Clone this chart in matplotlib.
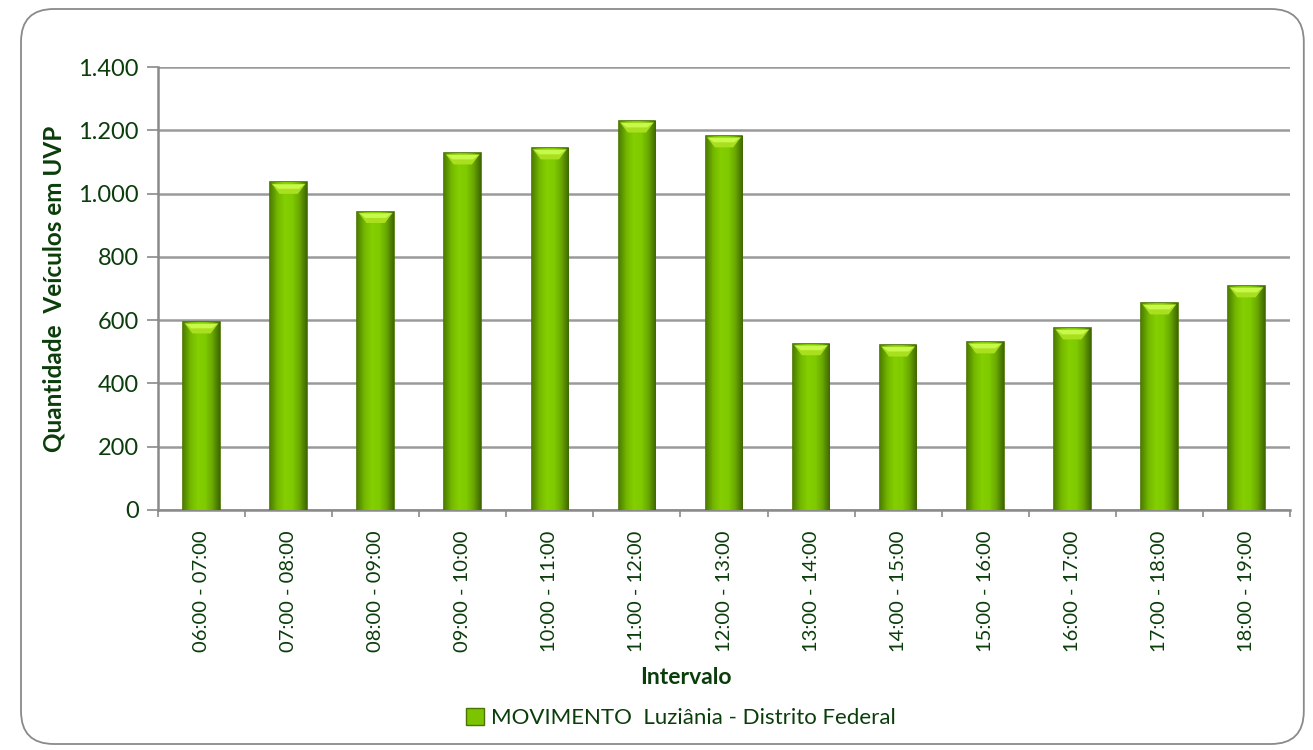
import matplotlib
matplotlib.use("Agg")
import matplotlib.pyplot as plt
import numpy as np
from matplotlib.patches import FancyBboxPatch, Patch
from matplotlib.colors import LinearSegmentedColormap

categories = ["06:00 - 07:00", "07:00 - 08:00", "08:00 - 09:00", "09:00 - 10:00",
              "10:00 - 11:00", "11:00 - 12:00", "12:00 - 13:00", "13:00 - 14:00",
              "14:00 - 15:00", "15:00 - 16:00", "16:00 - 17:00", "17:00 - 18:00",
              "18:00 - 19:00"]
values = [594, 1035, 943, 1128, 1144, 1229, 1182, 525, 521, 531, 575, 654, 708]
yticks = [0, 200, 400, 600, 800, 1000, 1200, 1400]
ytick_labels = ["0", "200", "400", "600", "800", "1.000", "1.200", "1.400"]
series_name = "MOVIMENTO  Luziânia - Distrito Federal"

plt.rcParams['font.family'] = ['Lato', 'DejaVu Sans']
txt = "#0b3d0b"

fig = plt.figure(figsize=(13.13, 7.5), dpi=100)
border = FancyBboxPatch((0.016, 0.008), 0.977, 0.98, boxstyle="round,pad=0,rounding_size=0.025",
                        transform=fig.transFigure, facecolor="none", edgecolor="#8a8a8a",
                        linewidth=1.3, mutation_aspect=1.75, zorder=-1)
fig.patches.append(border)

ax = fig.add_axes([158/1313, 1-510/750, (1290-158)/1313, (510-67)/750])
ax.set_facecolor("none")
x = np.arange(len(categories))
bars = ax.bar(x, values, width=0.42, color="#7cc400", edgecolor="#4a7400", linewidth=1.2, zorder=3)

cmap = LinearSegmentedColormap.from_list("g", ["#4e8000", "#74b800", "#84cf00", "#80cb00", "#6aa800", "#3f6800"])
grad = np.linspace(0, 1, 64).reshape(1, -1)
for b in bars:
    x0, w, h = b.get_x(), b.get_width(), b.get_height()
    im = ax.imshow(grad, cmap=cmap, aspect="auto", extent=(x0, x0 + w, 0, h), zorder=3.5)
    im.set_clip_path(b)
    ax.fill([x0 + 0.015, x0 + w - 0.015, x0 + w * 0.75, x0 + w * 0.25],
            [h - 4, h - 4, h - 36, h - 36], color="#a8e020", zorder=4, lw=0)
    ax.fill([x0 + 0.03, x0 + w - 0.03, x0 + w * 0.78, x0 + w * 0.22],
            [h - 6, h - 6, h - 20, h - 20], color="#c8f84a", zorder=4.1, lw=0)

ax.set_xlim(-0.5, len(categories) - 0.5)
ax.set_ylim(0, 1400)
ax.set_yticks(yticks)
ax.set_yticklabels(ytick_labels, fontsize=17, color=txt)
ax.set_xticks(x)
ax.set_xticklabels(categories, rotation=90, fontsize=14.5, color=txt)
ax.tick_params(axis='x', length=0, pad=15)
ax.set_xticks(np.arange(-0.5, len(categories)), minor=True)
ax.tick_params(axis='x', which='minor', length=5, color="#8a8a8a", width=1.2)
ax.tick_params(axis='y', length=8, color="#8a8a8a", pad=6, width=1.2)
ax.grid(axis='y', color="#9a9a9a", linewidth=1.8, zorder=0)
for s in ['top', 'right']:
    ax.spines[s].set_visible(False)
ax.spines['left'].set_color("#8a8a8a")
ax.spines['left'].set_linewidth(1.8)
ax.spines['bottom'].set_color("#8a8a8a")
ax.spines['bottom'].set_linewidth(1.8)
ax.set_ylabel("Quantidade  Veículos em UVP", fontsize=17.5, fontweight='bold', color=txt, labelpad=9)
ax.set_xlabel("Intervalo", fontsize=16.5, fontweight='bold', color=txt)
ax.xaxis.set_label_coords(0.466, -0.355)

handle = Patch(facecolor="#7cc400", edgecolor="#4a7400")
fig.legend([handle], [series_name], loc="center", bbox_to_anchor=(681/1313, 1-718/750),
           frameon=False, fontsize=16, labelcolor=txt, handlelength=0.8, handleheight=0.8,
           handletextpad=0.3)

fig.savefig("out.png", dpi=100)
